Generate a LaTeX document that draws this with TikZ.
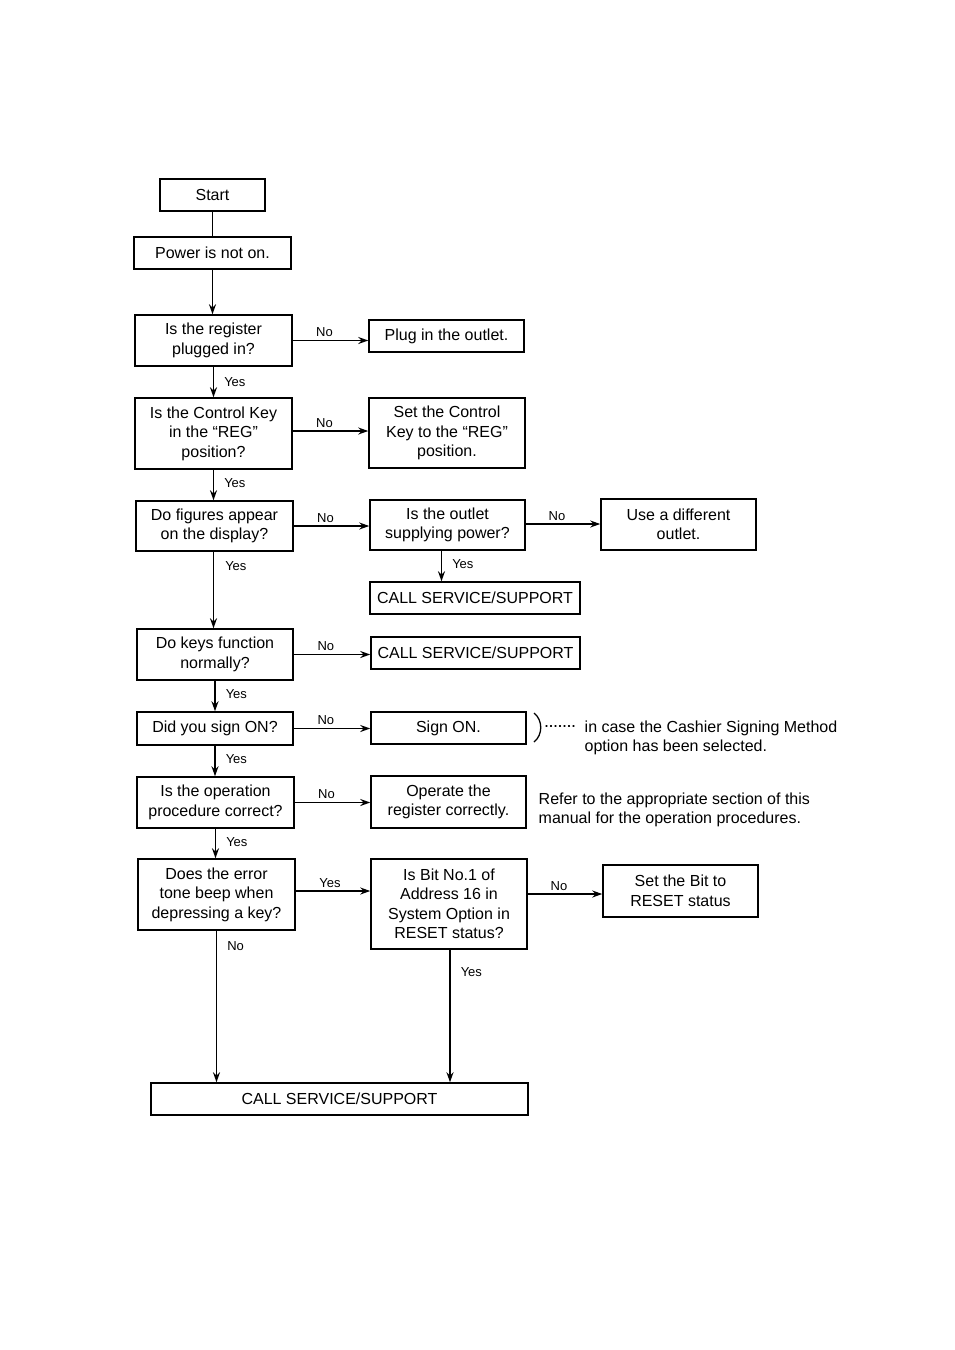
\documentclass[tikz,border=0pt]{standalone}
\usepackage{fontspec}
\setmainfont{Liberation Sans}
\usetikzlibrary{arrows.meta}
\begin{document}
\begin{tikzpicture}[x=1pt,y=-1pt,
  bx/.style={draw, line width=1.5pt, align=center, inner sep=0pt, font=\fontsize{16}{19.5}\selectfont},
  arr/.style={line width=1.5pt, -{Stealth[length=10pt,width=7pt]}},
  ln/.style={line width=1.5pt},
  lbl/.style={font=\fontsize{13}{15}\selectfont, inner sep=1pt},
  note/.style={font=\fontsize{16}{19.5}\selectfont, align=left, inner sep=0pt}]
\useasboundingbox (0,0) rectangle (954,1350);
% boxes
\node[bx, minimum width=105pt, minimum height=32pt] (start) at (212.5,195) {Start};
\node[bx, minimum width=157pt, minimum height=32pt] (power) at (212.5,253) {Power is not on.};
\node[bx, minimum width=157pt, minimum height=51pt] (plugged) at (213.5,340.5) {Is the register\\plugged in?};
\node[bx, minimum width=155pt, minimum height=32pt] (plugout) at (446.5,336) {Plug in the outlet.};
\node[bx, minimum width=157pt, minimum height=71pt] (ckey) at (213.5,433.5) {Is the Control Key\\in the “REG”\\position?};
\node[bx, minimum width=156pt, minimum height=70pt] (setkey) at (447,433) {Set the Control\\Key to the “REG”\\position.};
\node[bx, minimum width=157pt, minimum height=50pt] (figs) at (214.5,526) {Do figures appear\\on the display?};
\node[bx, minimum width=155pt, minimum height=50pt] (outlet) at (447.5,525) {Is the outlet\\supplying power?};
\node[bx, minimum width=155pt, minimum height=51pt] (diff) at (678.5,524.5) {Use a different\\outlet.};
\node[bx, minimum width=210pt, minimum height=32pt] (call1) at (475,598) {CALL SERVICE/SUPPORT};
\node[bx, minimum width=156pt, minimum height=51pt] (keys) at (215,654.5) {Do keys function\\normally?};
\node[bx, minimum width=209pt, minimum height=32pt] (call2) at (475.5,653) {CALL SERVICE/SUPPORT};
\node[bx, minimum width=156pt, minimum height=33pt] (signq) at (215,728.5) {Did you sign ON?};
\node[bx, minimum width=155pt, minimum height=32pt] (sign) at (448.5,728) {Sign ON.};
\node[bx, minimum width=157pt, minimum height=51pt] (oper) at (215.5,802.5) {Is the operation\\procedure correct?};
\node[bx, minimum width=155pt, minimum height=52pt] (operate) at (448.5,802) {Operate the\\register correctly.};
\node[bx, minimum width=157pt, minimum height=71pt] (err) at (216.5,894.5) {Does the error\\tone beep when\\depressing a key?};
\node[bx, minimum width=156pt, minimum height=90pt] (bit) at (449,904) {Is Bit No.1 of\\Address 16 in\\System Option in\\RESET status?};
\node[bx, minimum width=155pt, minimum height=52pt] (setbit) at (680.5,891) {Set the Bit to\\RESET status};
\node[bx, minimum width=377pt, minimum height=32pt] (call3) at (339.5,1099) {CALL SERVICE/SUPPORT};
% connectors
\draw[ln] (start.south) -- (start.south |- power.north);
\draw[arr] (power.south) -- (power.south |- plugged.north);
\draw[arr] (plugged.east) -- node[lbl, above, pos=0.42, yshift=2pt]{No} (plugged.east -| plugout.west);
\draw[arr] (plugged.south) -- node[lbl, right, pos=0.5, xshift=9pt]{Yes} (plugged.south |- ckey.north);
\draw[arr] ([yshift=2.5pt]ckey.east) -- node[lbl, above, pos=0.42, yshift=2pt]{No} ([yshift=2.5pt]ckey.east -| setkey.west);
\draw[arr] (ckey.south) -- node[lbl, right, pos=0.45, xshift=9pt]{Yes} (ckey.south |- figs.north);
\draw[arr] (figs.east) -- node[lbl, above, pos=0.42, yshift=2pt]{No} (figs.east -| outlet.west);
\draw[arr] ([yshift=1pt]outlet.east) -- node[lbl, above, pos=0.42, yshift=2pt]{No} ([yshift=1pt]outlet.east -| diff.west);
\draw[arr] ([xshift=-6pt]outlet.south) -- node[lbl, right, pos=0.45, xshift=9pt]{Yes} ([xshift=-6pt]outlet.south |- call1.north);
\draw[arr] ([xshift=-1pt]figs.south) -- node[lbl, right, pos=0.19, xshift=10pt]{Yes} ([xshift=-1pt]figs.south |- keys.north);
\draw[arr] (keys.east) -- node[lbl, above, pos=0.42, yshift=2pt]{No} (keys.east -| call2.west);
\draw[arr] (keys.south) -- node[lbl, right, pos=0.45, xshift=9pt]{Yes} (keys.south |- signq.north);
\draw[arr] (signq.east) -- node[lbl, above, pos=0.42, yshift=2pt]{No} (signq.east -| sign.west);
\draw[arr] (signq.south) -- node[lbl, right, pos=0.45, xshift=9pt]{Yes} (signq.south |- oper.north);
\draw[arr] (oper.east) -- node[lbl, above, pos=0.42, yshift=2pt]{No} (oper.east -| operate.west);
\draw[arr] (oper.south) -- node[lbl, right, pos=0.45, xshift=9pt]{Yes} (oper.south |- err.north);
\draw[arr] ([yshift=3.5pt]err.east) -- node[lbl, above, pos=0.46, yshift=2pt]{Yes} ([yshift=3.5pt]err.east -| bit.west);
\draw[arr] ([yshift=10pt]bit.east) -- node[lbl, above, pos=0.42, yshift=2pt]{No} ([yshift=10pt]bit.east -| setbit.west);
\draw[arr] (err.south) -- node[lbl, right, pos=0.1, xshift=9pt]{No} (err.south |- call3.north);
\draw[arr] ([xshift=1pt]bit.south) -- node[lbl, right, pos=0.17, xshift=9pt]{Yes} ([xshift=1pt]bit.south |- call3.north);
% annotations
\draw[line width=1.3pt] (534,713) .. controls (543,720) and (543,735) .. (534,742);
\draw[line width=1.1pt, dash pattern=on 1pt off 3.5pt, line cap=round] (546,726) -- (576,726);
\node[note, anchor=north west] (signnote) at (584.5,720.5) {in case the Cashier Signing Method\\option has been selected.};
\node[note, anchor=north west] (refnote) at (538.5,792.5) {Refer to the appropriate section of this\\manual for the operation procedures.};
\end{tikzpicture}
\end{document}
